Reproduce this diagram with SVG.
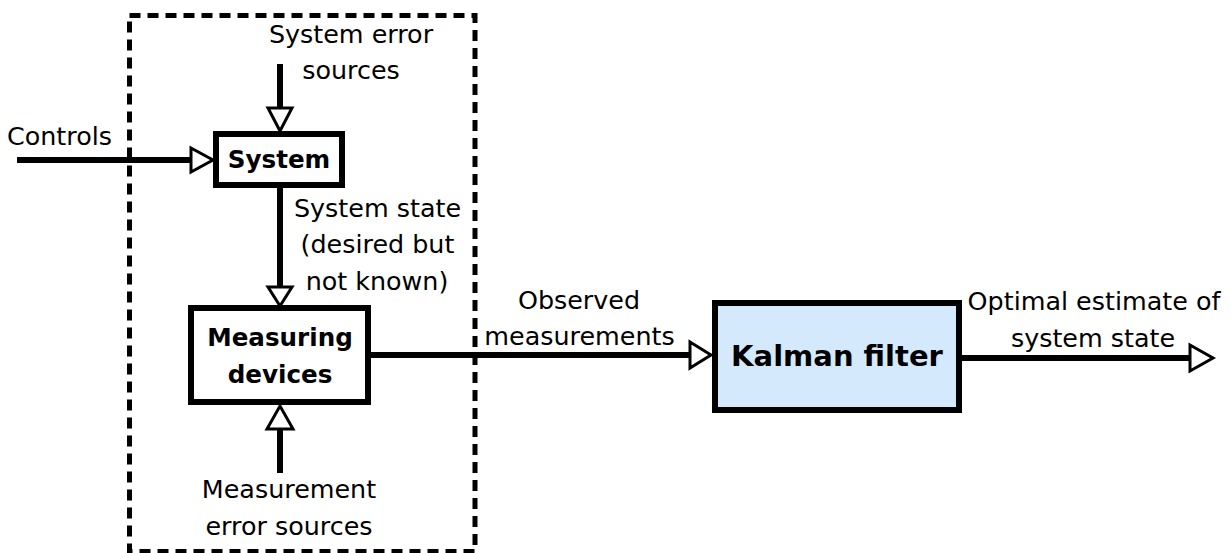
<svg xmlns="http://www.w3.org/2000/svg" width="1231" height="553" viewBox="0 0 1231 553">
  <style>
    .lbl { font-family: "DejaVu Sans", Verdana, sans-serif; font-size: 25.4px; fill: #000; text-anchor: middle; }
    .bold { font-weight: bold; font-size: 24.6px; }
    .box { fill: #fff; stroke: #000; stroke-width: 6; }
    .wire { fill: none; stroke: #000; stroke-width: 6; }
    .head { fill: #fff; stroke: #000; stroke-width: 3; stroke-linejoin: miter; }
  </style>

  <!-- boundary of the physical system -->
  <rect id="boundary" x="129.5" y="15.5" width="345.5" height="536" fill="none" stroke="#000" stroke-width="5" stroke-dasharray="11 7"/>

  <g id="connectors">
    <!-- controls into system -->
    <path class="wire" d="M17,160 H191"/>
    <polygon class="head" points="191,148 213,160 191,172"/>
    <!-- system error sources -->
    <path class="wire" d="M280,64 V108"/>
    <polygon class="head" points="268,108 292,108 280,131"/>
    <!-- system state to measuring devices -->
    <path class="wire" d="M280,188 V287"/>
    <polygon class="head" points="268,287 292,287 280,306"/>
    <!-- measurement error sources -->
    <path class="wire" d="M280,473 V429"/>
    <polygon class="head" points="267,429 293,429 280,406"/>
    <!-- observed measurements -->
    <path class="wire" d="M371,355 H690"/>
    <polygon class="head" points="690,342 711,355 690,368"/>
    <!-- optimal estimate out -->
    <path class="wire" d="M962,358 H1190"/>
    <polygon class="head" points="1190,345 1213,358 1190,371"/>

    <text class="lbl" x="59.5" y="145">Controls</text>
    <text class="lbl" x="351" y="43">System error</text>
    <text class="lbl" x="351" y="79">sources</text>
    <text class="lbl" x="377.5" y="217">System state</text>
    <text class="lbl" x="377.5" y="253">(desired but</text>
    <text class="lbl" x="377" y="290">not known)</text>
    <text class="lbl" x="289" y="498">Measurement</text>
    <text class="lbl" x="289" y="535">error sources</text>
    <text class="lbl" x="579" y="309">Observed</text>
    <text class="lbl" x="579.5" y="345">measurements</text>
    <text class="lbl" x="1094" y="310">Optimal estimate of</text>
    <text class="lbl" x="1093" y="347">system state</text>
  </g>

  <g id="system">
    <rect class="box" x="216" y="134" width="126" height="51"/>
    <text class="lbl bold" x="279" y="168">System</text>
  </g>

  <g id="measuring-devices">
    <rect class="box" x="191" y="308" width="177" height="94"/>
    <text class="lbl bold" x="280" y="346">Measuring</text>
    <text class="lbl bold" x="280" y="383">devices</text>
  </g>

  <g id="kalman-filter">
    <rect class="box" x="715" y="303" width="244" height="107" style="fill:#d4eafc"/>
    <text class="lbl bold" x="837" y="366" style="font-size:29px">Kalman filter</text>
  </g>
</svg>
